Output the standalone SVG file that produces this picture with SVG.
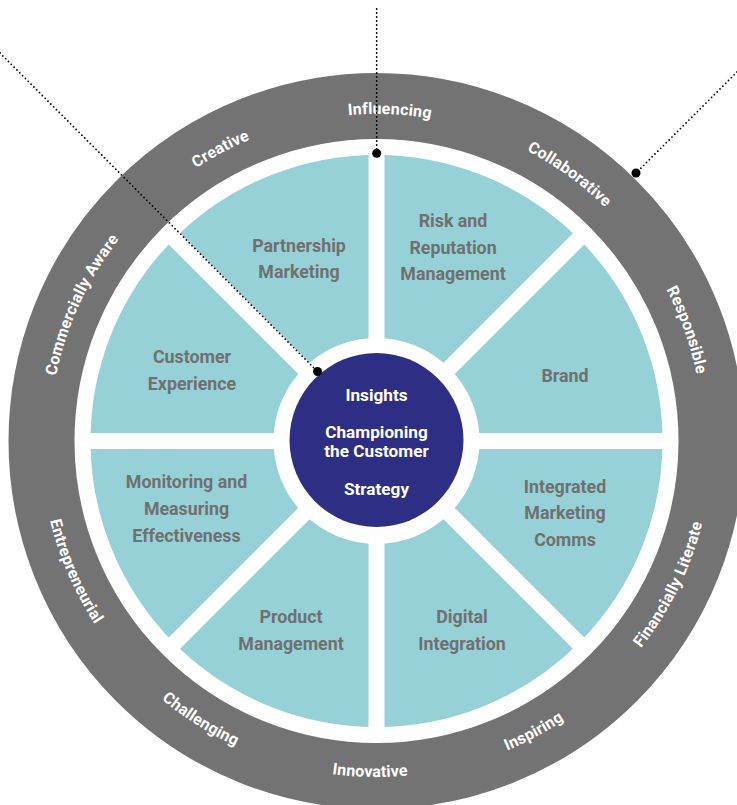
<svg xmlns="http://www.w3.org/2000/svg" width="737" height="805" viewBox="0 0 737 805">
<style>
.ring{font-family:Roboto,"Liberation Sans",sans-serif;font-weight:700;font-size:16px;letter-spacing:0.2px;fill:#ffffff}
.lbl{font-family:Roboto,"Liberation Sans",sans-serif;font-weight:700;font-size:17.8px;fill:#707070;text-anchor:middle}
.ctr{font-family:Roboto,"Liberation Sans",sans-serif;font-weight:700;font-size:17.2px;fill:#ffffff;text-anchor:middle}
.dotline{fill:none;stroke:#000;stroke-width:1.8;stroke-dasharray:0 4;stroke-linecap:round}
.gap{stroke:#fff;stroke-width:16}
</style>
<defs>
<path id="cw" d="M 376.5 768 A 327 327 0 1 1 376.5 114 A 327 327 0 1 1 376.5 768"/>
<path id="ccw" d="M 376.5 105 A 336 336 0 1 0 376.5 777 A 336 336 0 1 0 376.5 105"/>
</defs>
<rect width="737" height="805" fill="#fff"/>
<g id="ring">
<circle cx="376.5" cy="441" r="335" fill="none" stroke="#737373" stroke-width="66"/>
</g>
<g id="wheel">
<circle cx="376.5" cy="441" r="194.5" fill="none" stroke="#97d1d8" stroke-width="183"/>
<line class="gap" x1="376.5" y1="146" x2="376.5" y2="736"/>
<line class="gap" x1="81.5" y1="441" x2="671.5" y2="441"/>
<line class="gap" x1="167.9" y1="232.4" x2="585.1" y2="649.6"/>
<line class="gap" x1="585.1" y1="232.4" x2="167.9" y2="649.6"/>
</g>
<g id="ring-labels">
<g id="influencing"><text class="ring" text-anchor="middle"><textPath href="#cw" startOffset="50.64%">Influencing</textPath></text></g>
<g id="creative"><text class="ring" text-anchor="middle"><textPath href="#cw" startOffset="42.19%">Creative</textPath></text></g>
<g id="collaborative"><text class="ring" text-anchor="middle"><textPath href="#cw" startOffset="59.97%">Collaborative</textPath></text></g>
<g id="commercially-aware"><text class="ring" text-anchor="middle"><textPath href="#cw" startOffset="31.89%">Commercially Aware</textPath></text></g>
<g id="responsible"><text class="ring" text-anchor="middle"><textPath href="#cw" startOffset="69.53%">Responsible</textPath></text></g>
<g id="entrepreneurial"><text class="ring" text-anchor="middle"><textPath href="#ccw" startOffset="31.5%">Entrepreneurial</textPath></text></g>
<g id="challenging"><text class="ring" text-anchor="middle"><textPath href="#ccw" startOffset="41.03%">Challenging</textPath></text></g>
<g id="innovative"><text class="ring" text-anchor="middle"><textPath href="#ccw" startOffset="49.69%">Innovative</textPath></text></g>
<g id="inspiring"><text class="ring" text-anchor="middle"><textPath href="#ccw" startOffset="57.89%">Inspiring</textPath></text></g>
<g id="financially-literate"><text class="ring" text-anchor="middle"><textPath href="#ccw" startOffset="67.75%">Financially Literate</textPath></text></g>
</g>
<g id="partnership-marketing"><text class="lbl"><tspan x="299" y="252">Partnership</tspan><tspan x="299" y="278">Marketing</tspan></text></g>
<g id="risk-reputation"><text class="lbl"><tspan x="453" y="227">Risk and</tspan><tspan x="453" y="254">Reputation</tspan><tspan x="453" y="280">Management</tspan></text></g>
<g id="customer-experience"><text class="lbl"><tspan x="192" y="363">Customer</tspan><tspan x="192" y="390">Experience</tspan></text></g>
<g id="brand"><text class="lbl"><tspan x="565" y="382">Brand</tspan></text></g>
<g id="monitoring"><text class="lbl"><tspan x="186.5" y="488">Monitoring and</tspan><tspan x="186.5" y="515">Measuring</tspan><tspan x="186.5" y="542">Effectiveness</tspan></text></g>
<g id="integrated"><text class="lbl"><tspan x="565" y="493">Integrated</tspan><tspan x="565" y="519">Marketing</tspan><tspan x="565" y="546">Comms</tspan></text></g>
<g id="product-management"><text class="lbl"><tspan x="291" y="623">Product</tspan><tspan x="291" y="650">Management</tspan></text></g>
<g id="digital-integration"><text class="lbl"><tspan x="462" y="623">Digital</tspan><tspan x="462" y="650">Integration</tspan></text></g>
<g id="center">
<circle cx="376.5" cy="440" r="87" fill="#2e2e85"/>
<text class="ctr"><tspan x="376.5" y="401">Insights</tspan><tspan x="376.5" y="438">Championing</tspan><tspan x="376.5" y="457">the Customer</tspan><tspan x="376.5" y="495">Strategy</tspan></text>
</g>
<g id="connectors">
<line class="dotline" x1="376.7" y1="9" x2="376.7" y2="153"/>
<line class="dotline" x1="0" y1="53" x2="317.5" y2="371.5"/>
<line class="dotline" x1="737" y1="72" x2="636" y2="173"/>
<circle cx="376.7" cy="153.3" r="4.5" fill="#000"/>
<circle cx="317.5" cy="371.5" r="4.5" fill="#000"/>
<circle cx="636" cy="173" r="4.5" fill="#000"/>
</g>
</svg>
